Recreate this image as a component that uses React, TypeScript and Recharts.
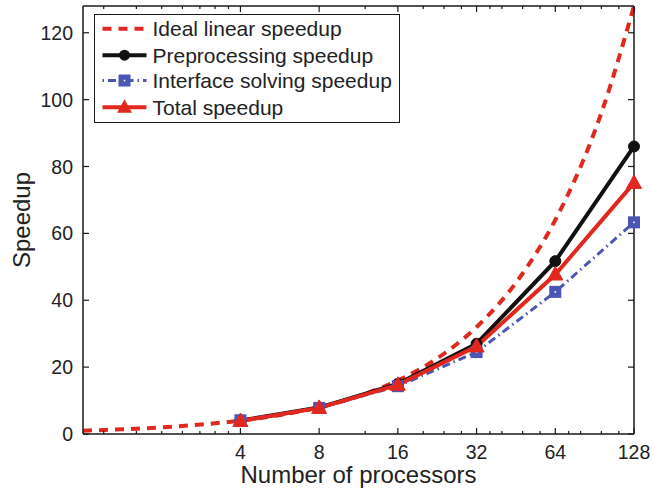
import React from 'react';
import { LineChart, Line, XAxis, YAxis, Legend } from 'recharts';

// ---------- data ----------
const PROCESSORS = [4, 8, 16, 32, 64, 128];
const PREPROCESSING_SPEEDUP = [4.0, 7.9, 15.0, 27.0, 51.7, 86.0];
const INTERFACE_SPEEDUP = [4.1, 7.8, 14.3, 24.5, 42.5, 63.3];
const TOTAL_SPEEDUP = [3.9, 7.8, 14.7, 26.2, 47.7, 75.1];
const IDEAL_PROCESSORS = [1, 1.5, 2, 3, 4, 6, 8, 12, 16, 24, 32, 48, 64, 96, 128];
const IDEAL_SPEEDUP = [1, 1.5, 2, 3, 4, 6, 8, 12, 16, 24, 32, 48, 64, 96, 128];

const X_MAJOR_TICKS = [4, 8, 16, 32, 64, 128];
const X_MINOR_TICKS = [1.2, 1.6, 2, 2.4, 2.8, 3.2, 3.6, 12, 20, 24, 28, 36, 40, 48, 56, 72, 80, 96, 112];
const Y_TICKS = [0, 20, 40, 60, 80, 100, 120];

const SERIES_NAMES = [
  'Ideal linear speedup',
  'Preprocessing speedup',
  'Interface solving speedup',
  'Total speedup',
];

// ---------- styles ----------
const FONT = '"Liberation Sans", Arial, Helvetica, sans-serif';
const RED = '#e0281f';
const BLACK = '#111111';
const BLUE = '#4a55b5';
const AXIS = '#1a1a1a';

const ALL_X_TICKS = [...X_MINOR_TICKS, ...X_MAJOR_TICKS].sort((a, b) => a - b);

const toRows = (xs: number[], ys: number[]) => xs.map((p, i) => ({ p, v: ys[i] }));
const idealData = toRows(IDEAL_PROCESSORS, IDEAL_SPEEDUP);
const preData = toRows(PROCESSORS, PREPROCESSING_SPEEDUP);
const ifaceData = toRows(PROCESSORS, INTERFACE_SPEEDUP);
const totalData = toRows(PROCESSORS, TOTAL_SPEEDUP);

// ---------- ticks ----------
const BottomTick = (props: any) => {
  const { x, y, payload } = props;
  const major = X_MAJOR_TICKS.includes(payload.value);
  return (
    <g>
      <line x1={x} x2={x} y1={y} y2={y - (major ? 6 : 3)} stroke={AXIS} strokeWidth={1.2} />
      {major && (
        <text x={x} y={y + 25} textAnchor="middle" fontSize={19.5} fontFamily={FONT} fill="#222">
          {payload.value}
        </text>
      )}
    </g>
  );
};

const TopTick = (props: any) => {
  const { x, y, payload } = props;
  const major = X_MAJOR_TICKS.includes(payload.value);
  return <line x1={x} x2={x} y1={y} y2={y + (major ? 6 : 3)} stroke={AXIS} strokeWidth={1.2} />;
};

const LeftTick = (props: any) => {
  const { x, y, payload } = props;
  return (
    <g>
      <line x1={x} x2={x + 6} y1={y} y2={y} stroke={AXIS} strokeWidth={1.2} />
      <text x={x - 10} y={y + 7} textAnchor="end" fontSize={19.5} fontFamily={FONT} fill="#222">
        {payload.value}
      </text>
    </g>
  );
};

const RightTick = (props: any) => {
  const { x, y } = props;
  return <line x1={x} x2={x - 6} y1={y} y2={y} stroke={AXIS} strokeWidth={1.2} />;
};

// ---------- markers ----------
const circleDot = (props: any) => {
  const { cx, cy, index } = props;
  return <circle key={`pre-${index}`} cx={cx} cy={cy} r={5.5} fill={BLACK} stroke={BLACK} strokeWidth={1} />;
};

const squareDot = (props: any) => {
  const { cx, cy, index } = props;
  return (
    <g key={`if-${index}`}>
      <rect x={cx - 6} y={cy - 6} width={12} height={12} fill={BLUE} />
      <rect x={cx - 0.8} y={cy - 0.8} width={1.6} height={1.6} fill="#fff" />
    </g>
  );
};

const triangleDot = (props: any) => {
  const { cx, cy, index } = props;
  return (
    <polygon
      key={`tot-${index}`}
      points={`${cx},${cy - 8} ${cx - 7.5},${cy + 5.5} ${cx + 7.5},${cy + 5.5}`}
      fill={RED}
      stroke={RED}
      strokeWidth={1}
    />
  );
};

// ---------- legend ----------
const LegendContent = () => {
  const rows = [13.8, 40.2, 65.5, 92.3];
  const x0 = 7.5;
  const x1 = 51.5;
  const xm = (x0 + x1) / 2;
  return (
    <div
      style={{
        width: 306,
        height: 109,
        border: `1.5px solid ${AXIS}`,
        boxSizing: 'border-box',
        background: '#fff',
      }}
    >
      <svg width={303} height={106} style={{ display: 'block', overflow: 'visible' }}>
        <line x1={x0} x2={x1} y1={rows[0]} y2={rows[0]} stroke={RED} strokeWidth={4} strokeDasharray="9 7" />
        <line x1={x0} x2={x1} y1={rows[1]} y2={rows[1]} stroke={BLACK} strokeWidth={4} />
        <circle cx={xm} cy={rows[1]} r={5.5} fill={BLACK} />
        <line x1={x0} x2={x1} y1={rows[2]} y2={rows[2]} stroke={BLUE} strokeWidth={3} strokeDasharray="1.5 4 8 4" />
        <rect x={xm - 6} y={rows[2] - 6} width={12} height={12} fill={BLUE} />
        <rect x={xm - 0.8} y={rows[2] - 0.8} width={1.6} height={1.6} fill="#fff" />
        <line x1={x0} x2={x1} y1={rows[3]} y2={rows[3]} stroke={RED} strokeWidth={4} />
        <polygon
          points={`${xm},${rows[3] - 8} ${xm - 7.5},${rows[3] + 5.5} ${xm + 7.5},${rows[3] + 5.5}`}
          fill={RED}
        />
        {SERIES_NAMES.map((name, i) => (
          <text key={name} x={57.5} y={rows[i] + 7.3} fontSize={21} fontFamily={FONT} fill="#222">
            {name}
          </text>
        ))}
      </svg>
    </div>
  );
};

// ---------- axis labels ----------
const XLabel = (props: any) => {
  const vb = props.viewBox || {};
  const cx = (vb.x ?? 83) + (vb.width ?? 551) / 2;
  return (
    <text x={cx} y={483} textAnchor="middle" fontSize={24} fontFamily={FONT} fill="#222">
      Number of processors
    </text>
  );
};

const YLabel = () => (
  <text
    x={0}
    y={0}
    transform="translate(30,220) rotate(-90)"
    textAnchor="middle"
    fontSize={24}
    fontFamily={FONT}
    fill="#222"
  >
    Speedup
  </text>
);

export default function App() {
  return (
    <div style={{ position: 'relative', width: 653, height: 490, background: '#fff' }}>
      <style>{`html, body { margin: 0; padding: 0; background: #fff; } .recharts-surface { overflow: visible; }`}</style>
      <LineChart width={653} height={490} margin={{ top: 5, right: 18, bottom: 0, left: 0 }}>
        <XAxis
          xAxisId="b"
          dataKey="p"
          type="number"
          scale="log"
          domain={[1, 128]}
          ticks={ALL_X_TICKS}
          interval={0}
          tick={<BottomTick />}
          tickSize={0}
          tickMargin={0}
          tickLine={false}
          axisLine={{ stroke: AXIS, strokeWidth: 1.5 }}
          height={56}
          orientation="bottom"
          label={<XLabel />}
        />
        <XAxis
          xAxisId="t"
          dataKey="p"
          type="number"
          scale="log"
          domain={[1, 128]}
          ticks={ALL_X_TICKS}
          interval={0}
          tick={<TopTick />}
          tickSize={0}
          tickMargin={0}
          tickLine={false}
          axisLine={{ stroke: AXIS, strokeWidth: 1.5 }}
          height={1}
          orientation="top"
        />
        <YAxis
          yAxisId="l"
          type="number"
          domain={[0, 128]}
          ticks={Y_TICKS}
          interval={0}
          tick={<LeftTick />}
          tickSize={0}
          tickMargin={0}
          tickLine={false}
          axisLine={{ stroke: AXIS, strokeWidth: 1.5 }}
          width={83}
          orientation="left"
          label={<YLabel />}
        />
        <YAxis
          yAxisId="r"
          type="number"
          domain={[0, 128]}
          ticks={Y_TICKS}
          interval={0}
          tick={<RightTick />}
          tickSize={0}
          tickMargin={0}
          tickLine={false}
          axisLine={{ stroke: AXIS, strokeWidth: 1.5 }}
          width={1}
          orientation="right"
        />
        <Legend
          layout="horizontal"
          verticalAlign="middle"
          align="center"
          wrapperStyle={{ left: 94, top: 14, width: 306, height: 109 }}
          content={() => <LegendContent />}
        />
        <Line
          xAxisId="t"
          yAxisId="r"
          data={idealData}
          dataKey="v"
          name={SERIES_NAMES[0]}
          type="monotone"
          stroke={RED}
          strokeWidth={4}
          strokeDasharray="9 7"
          dot={false}
          activeDot={false}
          isAnimationActive={false}
        />
        <Line
          xAxisId="b"
          yAxisId="l"
          data={preData}
          dataKey="v"
          name={SERIES_NAMES[1]}
          type="linear"
          stroke={BLACK}
          strokeWidth={4}
          dot={circleDot}
          activeDot={false}
          isAnimationActive={false}
        />
        <Line
          xAxisId="b"
          yAxisId="l"
          data={ifaceData}
          dataKey="v"
          name={SERIES_NAMES[2]}
          type="linear"
          stroke={BLUE}
          strokeWidth={3}
          strokeDasharray="8 4 1.5 4"
          dot={squareDot}
          activeDot={false}
          isAnimationActive={false}
        />
        <Line
          xAxisId="b"
          yAxisId="l"
          data={totalData}
          dataKey="v"
          name={SERIES_NAMES[3]}
          type="linear"
          stroke={RED}
          strokeWidth={4}
          dot={triangleDot}
          activeDot={false}
          isAnimationActive={false}
        />
      </LineChart>
    </div>
  );
}
